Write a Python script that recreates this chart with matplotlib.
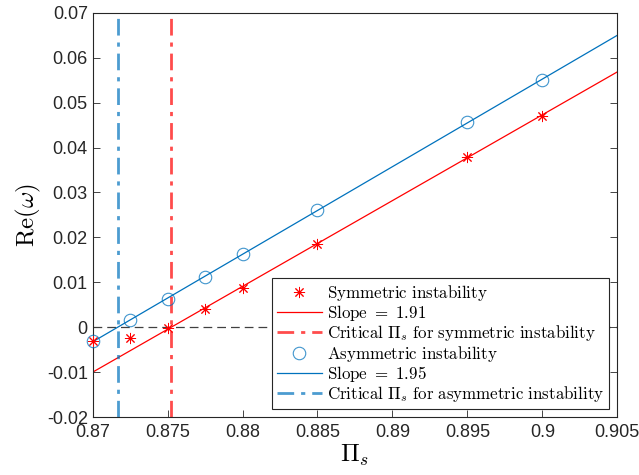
import numpy as np
import matplotlib
matplotlib.use('Agg')
import matplotlib.pyplot as plt

plt.rcParams['mathtext.fontset'] = 'cm'
plt.rcParams['font.family'] = 'Liberation Sans'

# data
pi_s = [0.87, 0.8725, 0.875, 0.8775, 0.88, 0.885, 0.895, 0.9]
re_sym = [-0.003, -0.0025, -0.0002, 0.004, 0.0088, 0.0185, 0.0378, 0.047]
re_asym = [-0.003, 0.0015, 0.0063, 0.0112, 0.0162, 0.0262, 0.0458, 0.055]
slope_sym = 1.91
slope_asym = 1.95
crit_sym = 0.87524
crit_asym = 0.87167
xfit = [0.87, 0.905]

red = (1, 0, 0)
blue = (0, 0.447, 0.741)

fig = plt.figure(figsize=(6.39, 4.75), dpi=100)
ax = fig.add_axes([0.145, 0.122, 0.821, 0.851])

ax.plot(xfit, [0, 0], '--', color=(0.25, 0.25, 0.25), lw=0.9, dashes=(7, 4))

ax.plot(pi_s, re_sym, color=red, ms=8, mew=0.7, linestyle='none', marker=(8, 2, 0),
        clip_on=False, zorder=4, label=r'$\mathrm{Symmetric\ instability}$')
ax.plot(xfit, [slope_sym * (x - crit_sym) for x in xfit], '-', color=red, lw=0.9,
        label=r'$\mathrm{Slope\ =\ 1.91}$')
ax.axvline(crit_sym, color=red, alpha=0.7, lw=2, linestyle=(0, (6, 2.5, 1.5, 2.5)),
           label=r'$\mathrm{Critical\ }\Pi_s\mathrm{\ for\ symmetric\ instability}$')
ax.plot(pi_s, re_asym, 'o', color=blue, ms=9, mew=0.8, markerfacecolor='none', alpha=0.75,
        clip_on=False, zorder=4, label=r'$\mathrm{Asymmetric\ instability}$')
ax.plot(xfit, [slope_asym * (x - crit_asym) for x in xfit], '-', color=blue, lw=0.9,
        label=r'$\mathrm{Slope\ =\ 1.95}$')
ax.axvline(crit_asym, color=blue, alpha=0.7, lw=2, linestyle=(0, (6, 2.5, 1.5, 2.5)),
           label=r'$\mathrm{Critical\ }\Pi_s\mathrm{\ for\ asymmetric\ instability}$')

ax.set_xlim(0.87, 0.905)
ax.set_ylim(-0.02, 0.07)
ax.set_xticks([0.87, 0.875, 0.88, 0.885, 0.89, 0.895, 0.9, 0.905])
ax.set_xticklabels(['0.87', '0.875', '0.88', '0.885', '0.89', '0.895', '0.9', '0.905'])
ax.set_yticks(np.arange(-0.02, 0.0701, 0.01))
ax.set_yticklabels(['-0.02', '-0.01', '0', '0.01', '0.02', '0.03', '0.04', '0.05', '0.06', '0.07'])
ax.tick_params(direction='in', length=5, width=0.6, labelsize=13, top=False, right=True,
               colors=(0.15, 0.15, 0.15))
ax.tick_params(axis='x', pad=5)
for s in ax.spines.values():
    s.set_linewidth(0.8)
    s.set_color((0.15, 0.15, 0.15))

ax.set_xlabel(r'$\Pi_s$', fontsize=18, labelpad=1)
ax.set_ylabel(r'$\mathrm{Re}(\omega)$', fontsize=18, labelpad=3)

leg = ax.legend(loc='lower right', fontsize=12.2, frameon=True, fancybox=False,
                edgecolor=(0.15, 0.15, 0.15), framealpha=1, borderpad=0.25,
                handlelength=2.7, handletextpad=0.3, labelspacing=0.02,
                borderaxespad=0.5)
leg.get_frame().set_linewidth(0.8)

plt.savefig('out.png', dpi=100)
